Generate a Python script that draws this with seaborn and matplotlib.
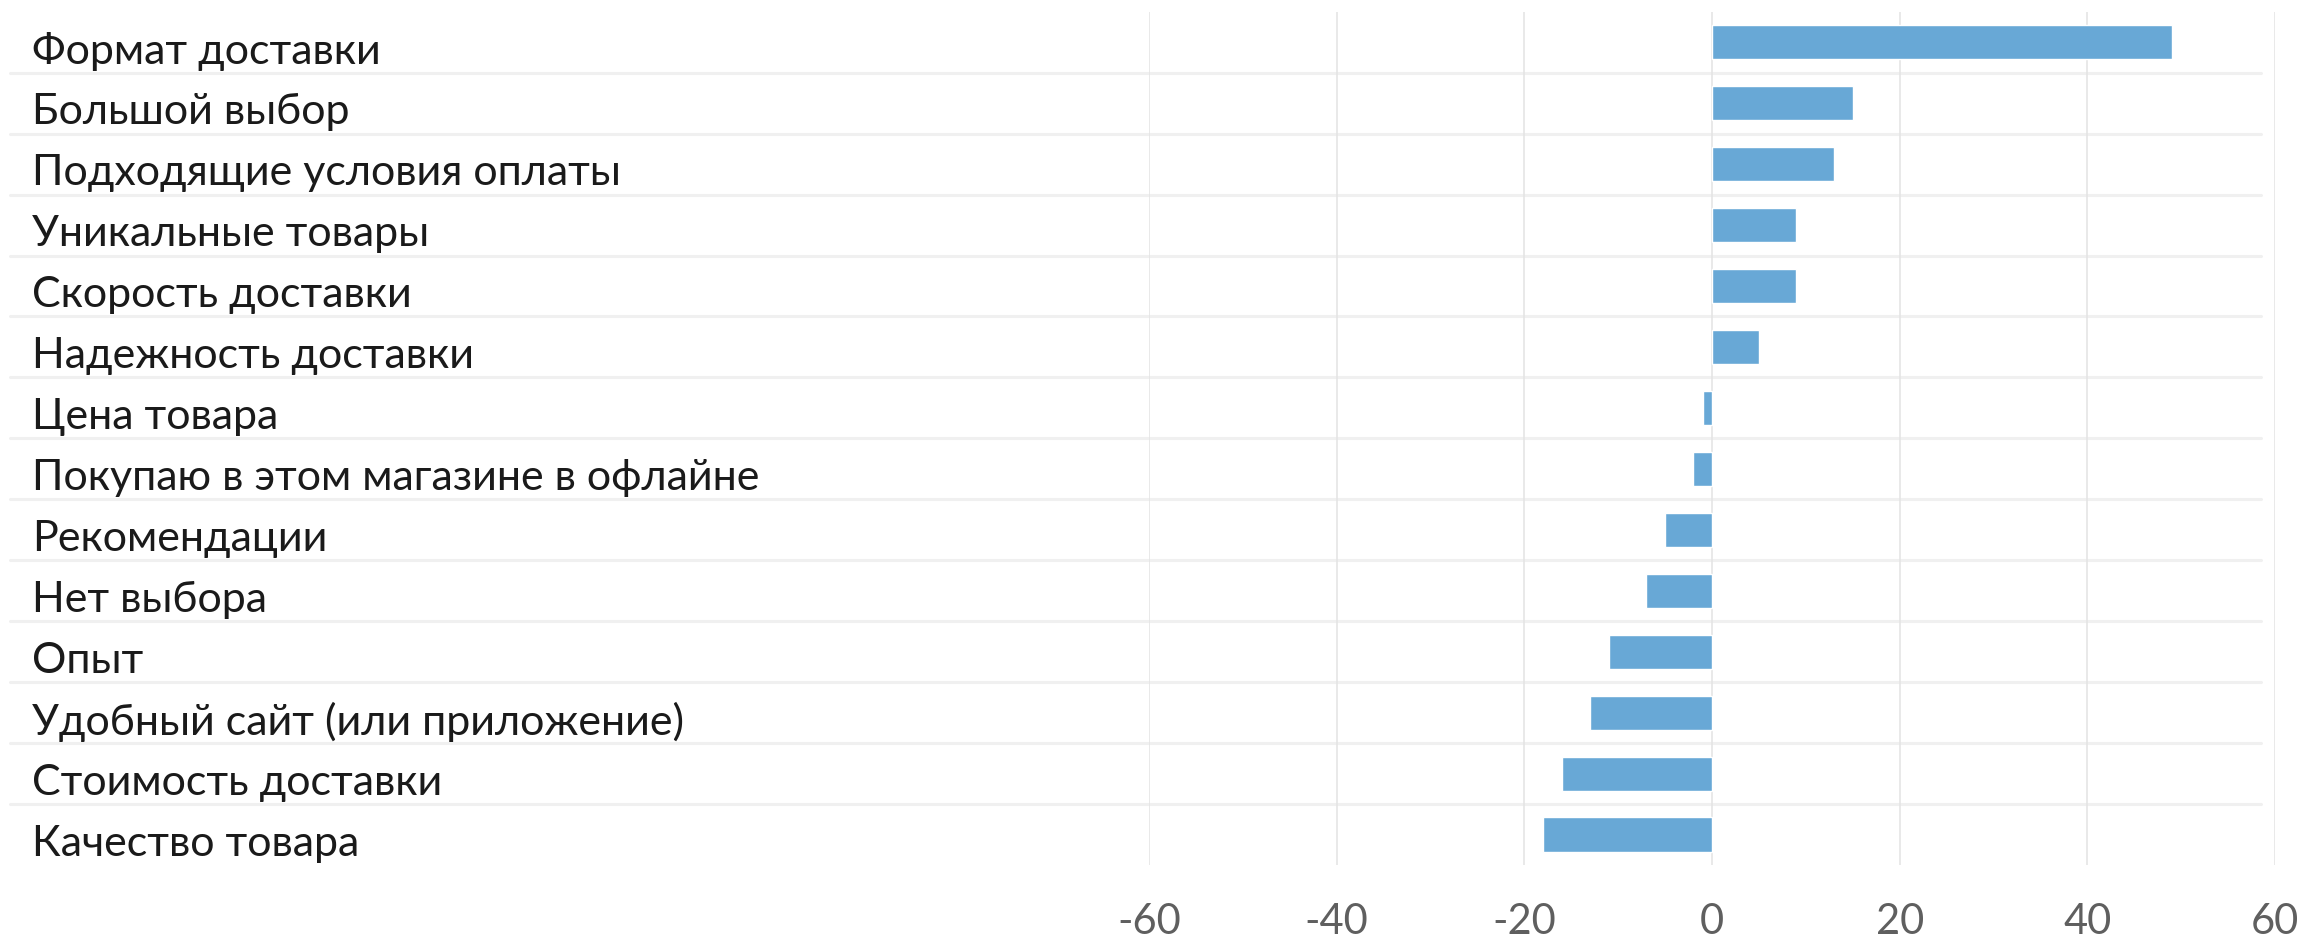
import matplotlib
matplotlib.use("Agg")
import matplotlib.pyplot as plt
import matplotlib.transforms as mtransforms
import seaborn as sns
import pandas as pd
from matplotlib import font_manager

factors = ["Формат доставки", "Большой выбор", "Подходящие условия оплаты",
           "Уникальные товары", "Скорость доставки", "Надежность доставки",
           "Цена товара", "Покупаю в этом магазине в офлайне", "Рекомендации",
           "Нет выбора", "Опыт", "Удобный сайт (или приложение)",
           "Стоимость доставки", "Качество товара"]
scores = [49, 15, 13, 9, 9, 5, -1, -2, -5, -7, -11, -13, -16, -18]
xticks = [-60, -40, -20, 0, 20, 40, 60]

df = pd.DataFrame({"factor": factors, "score": scores})

sns.set_style("white")
names = {f.name for f in font_manager.fontManager.ttflist}
fam = "Lato" if "Lato" in names else "DejaVu Sans"
plt.rcParams["font.family"] = [fam, "DejaVu Sans"]

fig = plt.figure(figsize=(23, 9.38), dpi=100)
ax = fig.add_axes([0.4996, 0.0778, 0.4895, 0.9097])

sns.barplot(data=df, x="score", y="factor", orient="h", color="#68a8d6",
            saturation=1, width=0.56, ax=ax)

ax.set_xlim(-60, 60)
ax.set_xticks(xticks)
ax.set_xticklabels([str(t) for t in xticks])
ax.grid(axis="x", color="#e3e3e3", linewidth=1.1)
ax.set_axisbelow(True)
for s in ax.spines.values():
    s.set_visible(False)
ax.set_xlabel("")
ax.set_ylabel("")

# row separators for the label column
x0 = (10 - 1149) / 1126
x1 = (2261 - 1149) / 1126
for i in range(len(factors) - 1):
    ax.axhline(i + 0.5, xmin=x0, xmax=x1, color="#f0f0f0", linewidth=2.2,
               clip_on=False, zorder=0)

ax.tick_params(axis="x", length=0, pad=27, labelsize=30, labelcolor="#5f5f5f")
ax.tick_params(axis="y", length=0, pad=804, labelsize=31, labelcolor="#1a1a1a")
shift = mtransforms.ScaledTranslation(0, -4 / 72, fig.dpi_scale_trans)
for lab in ax.get_yticklabels():
    lab.set_horizontalalignment("left")
    lab.set_transform(lab.get_transform() + shift)

fig.savefig("out.png", dpi=100)
